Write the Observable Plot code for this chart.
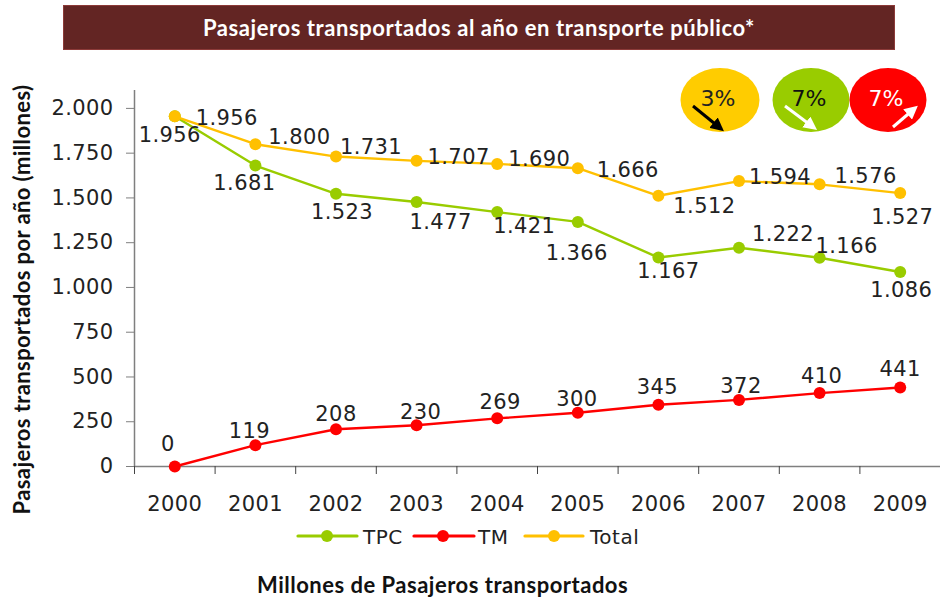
<!DOCTYPE html>
<html><head><meta charset="utf-8">
<script src="https://cdn.jsdelivr.net/npm/d3@7"></script>
<script src="https://cdn.jsdelivr.net/npm/@observablehq/plot@0.6"></script>
<style>
html,body{margin:0;padding:0;background:#fff}
#wrap{position:relative;width:940px;height:599px;overflow:hidden}
#wrap svg{position:absolute;left:0;top:0}
.abs{position:absolute;white-space:nowrap}
#banner{left:63px;top:5px;width:830px;height:43px;background:#632523;border:1px solid #8c3a38;color:#fff;font:bold 22px Lato,sans-serif;letter-spacing:.57px;display:flex;align-items:center;justify-content:center}
#foot{left:257px;top:571px;font:bold 22px Lato,sans-serif;letter-spacing:.5px;color:#111}
.leg{font:20px "DejaVu Sans",sans-serif;color:#222;letter-spacing:.5px;top:525px}
</style></head><body>
<div id="wrap">
<div id="chart"></div>
<div id="banner" class="abs">Pasajeros transportados al año en transporte público*</div>
<div id="foot" class="abs">Millones de Pasajeros transportados</div>
<div class="abs leg" style="left:363px">TPC</div>
<div class="abs leg" style="left:478px">TM</div>
<div class="abs leg" style="left:590px">Total</div>
<svg id="deco" width="940" height="599" style="pointer-events:none">
  <defs>
    <marker id="ak" markerWidth="4.5" markerHeight="4.5" refX="2.8" refY="2.25" orient="auto"><path d="M0,0L4.5,2.25L0,4.5Z" fill="#000"/></marker>
    <marker id="aw" markerWidth="4.5" markerHeight="4.5" refX="2.8" refY="2.25" orient="auto"><path d="M0,0L4.5,2.25L0,4.5Z" fill="#fff"/></marker>
  </defs>
  <g stroke-width="3.2" stroke-linecap="round">
    <line x1="298" y1="536" x2="357" y2="536" stroke="#99CC00"/><circle cx="327" cy="536" r="6" fill="#99CC00"/>
    <line x1="414" y1="536" x2="474" y2="536" stroke="#FF0000"/><circle cx="443" cy="536" r="6" fill="#FF0000"/>
    <line x1="525" y1="536" x2="583" y2="536" stroke="#FFC000"/><circle cx="554" cy="536" r="6" fill="#FFC000"/>
  </g>
  <ellipse cx="720" cy="100" rx="39.5" ry="32" fill="#FFCC00"/>
  <ellipse cx="811" cy="100" rx="38.5" ry="32" fill="#99CC00"/>
  <ellipse cx="888" cy="100" rx="38.5" ry="32" fill="#FF0000"/>
  <g font-family="DejaVu Sans" font-size="22" text-anchor="middle">
    <text x="718" y="106" fill="#222">3%</text>
    <text x="809" y="106" fill="#111">7%</text>
    <text x="886" y="106" fill="#fff">7%</text>
  </g>
  <line x1="693" y1="106" x2="720" y2="128" stroke="#000" stroke-width="3" marker-end="url(#ak)"/>
  <line x1="785" y1="106" x2="813" y2="127" stroke="#fff" stroke-width="3" marker-end="url(#aw)"/>
  <line x1="893" y1="127" x2="914" y2="109" stroke="#fff" stroke-width="3" marker-end="url(#aw)"/>
</svg>
</div>
<script>
const years = [2000,2001,2002,2003,2004,2005,2006,2007,2008,2009];
const tpc   = [1956,1681,1523,1477,1421,1366,1167,1222,1166,1086];
const tm    = [0,119,208,230,269,300,345,372,410,441];
const total = [1956,1800,1731,1707,1690,1666,1512,1594,1576,1527];
const yTicks = [0,250,500,750,1000,1250,1500,1750,2000];

// label nudges in pixels, style only
const nudgeTpc = [[-5,19],[-11,18],[6,18],[24,20],[27,14],[-1,31],[10,14],[44,-13],[27,-11],[1,18]];
const nudgeTm  = [[-7,-22],[-6,-14],[0,-15],[4,-13],[3,-16],[-1,-14],[-1,-17],[2,-14],[2,-17],[0,-18]];
const nudgeTot = [[52,2],[44,-7],[35,-9],[42,-4],[42,-5],[50,2],[46,10],[41,-4],[46,-8],[2,24]];

const fmt = v => String(v).replace(/\B(?=(\d{3})+$)/g, ".");
const rows = vals => years.map((year,i)=>({year,value:vals[i]}));
const series = [
  {vals:tpc,  color:"#99CC00", nudge:nudgeTpc},
  {vals:tm,   color:"#FF0000", nudge:nudgeTm},
  {vals:total,color:"#FFC000", nudge:nudgeTot}
];
const gray = "#7f7f7f", ink = "#222";
const edges = d3.range(11).map(i=>1999.5+i);

const marks = [
  Plot.ruleY([0],{x1:1999.5,x2:2009.5,stroke:gray,strokeWidth:1.5}),
  Plot.ruleX([1999.5],{y1:0,y2:2100,stroke:gray,strokeWidth:1.5}),
  Plot.axisY({ticks:yTicks,tickSize:9,tickPadding:13,stroke:gray,fill:ink,fontSize:21,tickFormat:fmt,label:null}),
  Plot.axisX({ticks:edges,tickSize:8,stroke:"#444",tickFormat:()=>"",label:null}),
  Plot.axisX({ticks:years,tickSize:0,tickPadding:30,fill:ink,fontSize:21,tickFormat:d=>String(d),label:null}),
  Plot.text(["Pasajeros transportados por año (millones)"],{frameAnchor:"left",textAnchor:"middle",rotate:-90,dx:-113,dy:21,fontFamily:"Lato",fontWeight:"bold",fontSize:22,fill:"#111"})
];
for (const s of series) {
  const data = rows(s.vals);
  marks.push(Plot.line(data,{x:"year",y:"value",stroke:s.color,strokeWidth:2.4,curve:"linear"}));
  marks.push(Plot.dot(data,{x:"year",y:"value",r:6,fill:s.color,stroke:null}));
}
for (const s of series) {
  const data = rows(s.vals);
  data.forEach((d,i)=>marks.push(Plot.text([d],{x:"year",y:"value",text:r=>fmt(r.value),dx:s.nudge[i][0],dy:s.nudge[i][1],fontSize:21,fill:ink,textAnchor:"middle",lineAnchor:"middle"})));
}
const chart = Plot.plot({
  width:940,height:599,
  marginTop:90,marginBottom:133,marginLeft:135,marginRight:0,
  style:{background:"transparent",fontFamily:"'DejaVu Sans',sans-serif",letterSpacing:"0.4px"},
  x:{type:"linear",domain:[1999.5,2009.5],range:[134,940]},
  y:{domain:[0,2100],range:[466,90]},
  marks
});
document.getElementById("chart").appendChild(chart);
</script>
</body></html>
